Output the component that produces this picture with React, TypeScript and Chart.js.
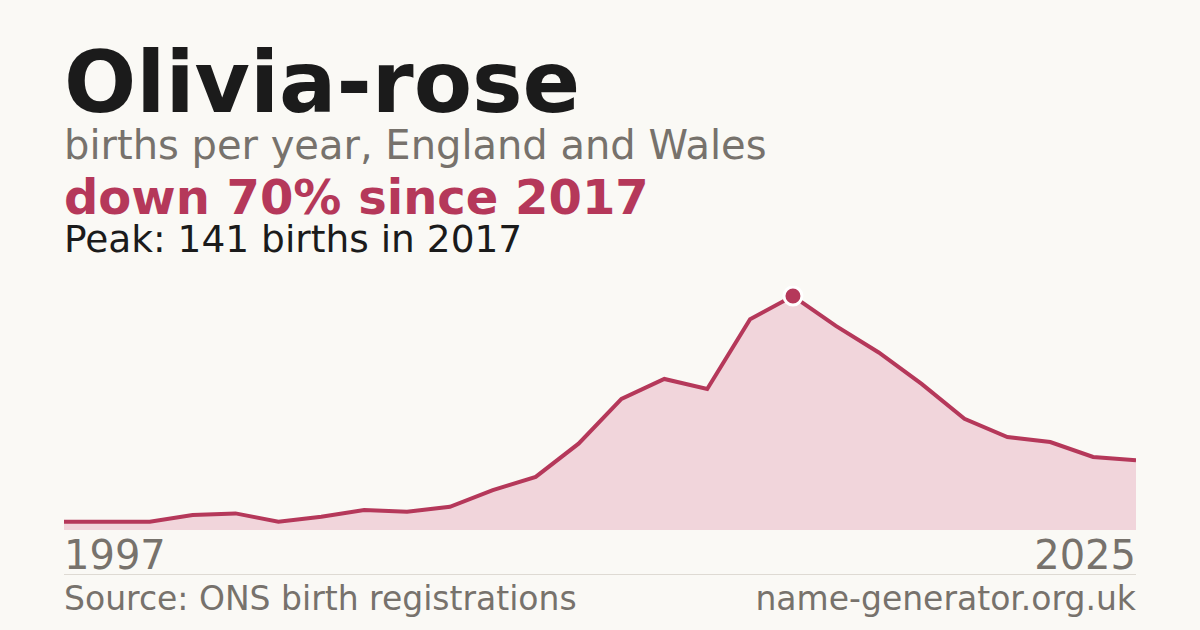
import React, { useEffect, useRef } from 'react';
import { Chart, registerables } from 'chart.js';

Chart.register(...registerables);

// years with a recorded count (some early years are missing from the series)
const years = [
  '1997', '1998', '1999', '2001', '2002', '2004', '2005', '2007', '2008',
  '2009', '2010', '2011', '2012', '2013', '2014', '2015', '2016', '2017',
  '2018', '2019', '2020', '2021', '2022', '2023', '2024', '2025',
];
const births = [
  5, 5, 5, 9, 10, 5, 8, 12, 11,
  14, 24, 32, 52, 79, 91, 85, 127, 141,
  123, 107, 88, 67, 56, 53, 44, 42,
];
const peakYear = '2017';

const BG = '#faf9f5';
const ROSE = '#b5385a';
const ROSE_FILL = '#f1d5db';
const GREY = '#77726c';
const INK = '#1b1b1b';
const FONT = '"DejaVu Sans", sans-serif';

const App = () => {
  const canvasRef = useRef<HTMLCanvasElement>(null);

  useEffect(() => {
    if (!canvasRef.current) return;
    const peakIdx = years.indexOf(peakYear);
    const chart = new Chart(canvasRef.current, {
      type: 'line',
      data: {
        labels: years,
        datasets: [
          {
            data: births,
            borderColor: ROSE,
            borderWidth: 4,
            backgroundColor: ROSE_FILL,
            fill: 'origin',
            tension: 0,
            clip: false,
            pointRadius: years.map((_, i) => (i === peakIdx ? 9 : 0)),
            pointBackgroundColor: ROSE,
            pointBorderColor: '#ffffff',
            pointBorderWidth: 3,
          },
        ],
      },
      options: {
        animation: false,
        responsive: false,
        maintainAspectRatio: false,
        layout: { padding: { top: 10, left: 0, right: 0, bottom: 0 } },
        plugins: { legend: { display: false }, tooltip: { enabled: false } },
        scales: {
          x: { display: false, offset: false },
          y: { display: false, min: 0, max: 141 },
        },
      },
    });
    return () => chart.destroy();
  }, []);

  const text = (size: number, top: number, extra: React.CSSProperties = {}): React.CSSProperties => ({
    position: 'absolute',
    top,
    left: 64,
    fontFamily: FONT,
    fontSize: size,
    lineHeight: `${size}px`,
    whiteSpace: 'nowrap',
    margin: 0,
    ...extra,
  });

  return (
    <div style={{ position: 'fixed', left: 0, top: 0, width: 1200, height: 630, background: BG, overflow: 'hidden' }}>
      <div style={text(85, 40, { fontWeight: 'bold', color: INK })}>Olivia-rose</div>
      <div style={text(40, 125, { color: GREY })}>births per year, England and Wales</div>
      <div style={text(48, 173, { fontWeight: 'bold', color: ROSE })}>down 70% since 2017</div>
      <div style={text(37.5, 221, { color: INK })}>Peak: 141 births in 2017</div>

      <div style={{ position: 'absolute', left: 64, top: 286, width: 1072, height: 244 }}>
        <canvas ref={canvasRef} width={1072} height={244} style={{ display: 'block' }} />
      </div>

      <div style={text(40, 535, { color: GREY })}>{years[0]}</div>
      <div style={text(40, 535, { color: GREY, left: 'auto', right: 64 })}>{years[years.length - 1]}</div>
      <div style={{ position: 'absolute', left: 64, top: 574, width: 1072, height: 1, background: '#dedad3' }} />
      <div style={text(33, 582, { color: GREY })}>Source: ONS birth registrations</div>
      <div style={text(33, 582, { color: GREY, left: 'auto', right: 64 })}>name-generator.org.uk</div>
    </div>
  );
};

export default App;
